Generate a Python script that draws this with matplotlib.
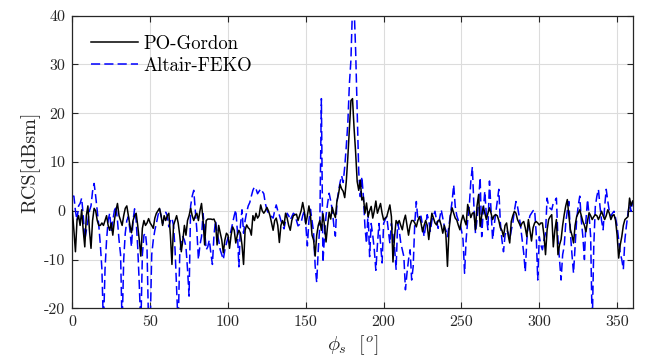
import numpy as np
import matplotlib
matplotlib.use("Agg")
import matplotlib.pyplot as plt

plt.rcParams['font.family'] = 'serif'
plt.rcParams['font.serif'] = ['cmr10', 'DejaVu Serif']
plt.rcParams['mathtext.fontset'] = 'cm'
plt.rcParams['axes.unicode_minus'] = False
plt.rcParams['axes.formatter.use_mathtext'] = False

phi = np.arange(0, 361, 1)

po_gordon = [
    0, -4, -8.4, -2, -1, -3, 0.2, -4, -7.4, -1,
    1, -4, -7.7, -2, 0.5, 0, -2, -3, -3, -2.5,
    -3, -2, -1, -3, -4, -2.5, -5, -2, 0, 1.5,
    -1, -2, -3, -1, 0.5, 1, -1, -3, -4.5, -2,
    -1, -0.5, -3, -6, -9.3, -3.6, -2, -3, -2.5, -1.6,
    -2.5, -3, -3.6, -1.5, -0.5, 0, 0.5, -1, -3, -1,
    -2, -1, -0.5, -5, -11, -3, -2, -1, -2.5, -5,
    -8.4, -6, -3, -5, -2, -1, 0.5, -1, -2, -1,
    -0.5, -2, 0, 1.5, -2, -7, -2, -1.7, -1.7, -1.7,
    -1.8, -1.7, -2.5, -7, -3, -4.5, -6, -8.6, -6, -4.6,
    -5, -7.7, -5, -3.3, -4, -6.6, -5, -4, -4.6, -7,
    -11, -4, -2.9, -3.5, -3.8, -5, -1, -2, -0.5, -1.5,
    -1, 1.2, 0, -0.5, 0, 0.7, 0, -1, -2.5, -4,
    -2, -1.5, -3, -6.5, -3, -2, -3, -0.5, -1.5, -3,
    -4, -2, -1, -0.8, -0.7, -2, -1, 0, 1.7, 0,
    -2.7, -1, 1, -1, -5, -6, -9.3, -5, -3, -2,
    -4, -0.6, -3, -6.4, -3, -0.3, -1.7, 0.7, -0.5, -1.4,
    2, 3.4, 5.4, 4.5, 4, 2.7, 6, 11, 17, 22.6,
    23, 17, 12, 6, 4.2, 6.3, 2.2, 2.8, -0.5, 1.6,
    -1.2, 0, 0.9, -1.5, 0, 2, -0.5, 0.5, 1.5, -0.5,
    -1.9, -1.5, -1.2, 0, 1.2, -1.2, -10.5, -5.3, -2, -2.6,
    -2, -3, -3.9, -2, -0.9, -3, -5, -3, -2, -2,
    -2.5, -3.3, -2, -1.2, -2.5, -4.3, -3, -2, -3, -5.9,
    -3, -0.5, -1.5, -2.5, -2.9, -2, -1.9, -3, -4.6, -3,
    -5, -11.4, -3.9, -1, 0.6, -0.5, -1.5, -1.9, -3, -3.9,
    -2, -0.9, -2, -2.9, 1.3, 0, -1.4, -0.5, -0.4, -3.9,
    1, 3.3, -3.2, -1, 0.9, -0.5, -1.8, -0.5, 0.6, -0.5,
    -1.8, -1, -0.8, -1, -2, -3.5, -4, -5.3, -3, -2.5,
    -5, -6.6, -2.2, -1, -0.1, -0.5, -1.8, -2.5, -3.2, -2.5,
    -2.2, -3.5, -5.3, -1.8, -4, -6.2, -3.5, -2.5, -2.2, -2.5,
    -2.9, -2.5, -2.5, -5, -9, -4, -1.8, -1.2, -0.8, -7.4,
    -4, -1.8, -9, -7, -5.9, -3, -0.8, 1, 2.3, -1,
    -3.9, -5, -6.6, -3, -1.2, -0.5, 0.2, -1, -2.2, -3,
    -4.3, -2, -0.4, -1, -1.8, -1.2, -0.8, -1, -1.8, -1,
    -0.1, -1, -1.8, -1, 0.2, -0.5, -1.8, -1, -0.8, -2,
    -5, -9.7, -7, -5.3, -3, -1.8, -1.5, -1.2, 2.6, 1,
    2,
]

altair_feko = [
    3, 3, 0, -2, 1, 1.5, 2.6, -1, -6, -4,
    -2, 0, 1, 4, 5.6, 3, 0, -3, -7, -12,
    -24, -12, -6, -2, -0.5, -4, -2, 0, 1, -2,
    -6, -9, -24, -10, -4.6, -2, -1.2, -4, -7.4, -2,
    0.4, -2, -7.4, -15, -24, -9, -5, -4.6, -8, -24,
    -24, -9, -6, -4, -2.6, -1, 0.4, -1, -2.6, -1.5,
    -0.3, -1, -3.3, -2, -1.5, -3, -8, -16, -24, -9,
    -6, -5.3, -6, -7.4, -12, -17.5, 1, 3, 4.2, 0,
    -4, -10, -7, -5.3, -0.6, -4, -8, -7.4, -6, -8.7,
    -11, -5, -2, -4.6, -6, -8, -9, -10, -8, -6.7,
    -5.5, -5.3, -4, -2.5, -1, 0.2, -4, -11.5, -3, 0.2,
    -4.6, -2, -0.3, 1, 1.7, 3, 4.2, 4.9, 4.5, 3.5,
    4, 4.5, 4, 3.5, 1.5, 0.2, -0.5, -0.9, -1.2, -1.5,
    0, 1.2, 0, -0.9, -2, -2.9, -3.7, -2, -0.5, -1,
    -1.9, -1.2, -0.5, -0.8, -2, -3.1, -2.8, -2.4, -1, 0,
    -3, -7.2, -2, 0.3, -2, -4.4, -11.3, -14.7, -8, -3,
    23, -10.6, -5.2, -1, 1.5, 3.6, 2, 0.2, -3, -5.2,
    1.7, 4, 5.8, 7.2, 5.8, 9, 13.2, 18, 26, 31,
    42, 42, 33, 20.6, 8, 2.9, 7, 2.9, -3.3, -6.7,
    -0.2, -9.4, -2.6, -5, -8, -12.2, -7, -2.6, -6.7, -10.7,
    -2.6, -1.8, -1.2, -4, -6.7, -2.6, -5, -7.4, -12, -2.5,
    -4, -6.6, -8, -9.4, -16.2, -12.8, -10, -8, -14.2, -11.4,
    -2.5, 1.9, -1.8, -1.5, -1.1, -3, -5.3, -3, -0.8, -2,
    -4.2, -2, -1, -0.1, -2, -3.6, -1.5, 0.2, -1.5, -3.2,
    -4, -5.3, -3, -0.5, 2, 5.3, 0.9, -1, -2, -2.5,
    -4, -5.9, -12.8, -5.9, -2, 0.9, 6, 9, 0.9, -4.6,
    -1.8, 2, 6.8, -5.3, 0, 4, -1, -3.9, 6.1, 0,
    -5.9, -3, -0.5, 2, 4.4, -2.5, -6, -8.4, -5, -3.9,
    -4.5, -5.9, -4, -2.5, 0, 1.9, 0.9, -1, -3.2, -6,
    -8.7, -12.5, -6, -2.5, -1, -0.5, 0, 0.2, -4.6, -14.2,
    -5.3, -7, -8, -6, -4.6, 2.6, 0.9, 0.5, 0.2, 1.6,
    2, 2.6, -5.9, -10, -14.2, -9, -7.3, -2.5, 0, 1.9,
    -4.6, -9, -12.8, -7.3, -1.8, 1, 3, -2, -5.3, -10,
    -1.8, 2.3, -1, -5.3, -24, -7.3, 0.9, 3, 4.4, 0.9,
    -2, -3.9, 0.9, 4.4, 2, -0.1, -1.1, -0.5, -0.1, -1.5,
    -3.2, -6, -8.7, -10, -12, -5.9, -3, -0.5, 1.6, -0.1,
    2,
]

series_labels = ['PO-Gordon', 'Altair-FEKO']
x_ticks = [0, 50, 100, 150, 200, 250, 300, 350]
y_ticks = [-20, -10, 0, 10, 20, 30, 40]

fig = plt.figure(figsize=(6.54, 3.62), dpi=100)
ax = fig.add_axes([0.1106, 0.1483, 0.8568, 0.8083])

ax.plot(phi, po_gordon, color='black', lw=1.1, label=series_labels[0], zorder=3)
ax.plot(phi, altair_feko, color='blue', lw=1.1, linestyle=(0, (6, 2.7)),
        label=series_labels[1], zorder=2)

ax.set_xlim(0, 360)
ax.set_ylim(-20, 40)
ax.set_xticks(x_ticks)
ax.set_yticks(y_ticks)
ax.grid(True, color='#dcdcdc', lw=0.8)
ax.set_axisbelow(True)

edge = '#262626'
for s in ax.spines.values():
    s.set_color(edge)
    s.set_linewidth(0.9)
ax.tick_params(direction='in', top=True, right=True, length=4, width=0.8,
               colors=edge, labelsize=11.5, pad=5)

ax.set_xlabel(r'$\phi_s\ \ [^o]$', fontsize=14.5, color=edge, labelpad=3)
ax.set_ylabel('RCS[dBsm]', fontsize=14.5, color=edge, labelpad=3)

leg = ax.legend(loc='upper left', frameon=False, fontsize=13.5,
                handlelength=2.5, handletextpad=0.3, labelspacing=0.2,
                borderaxespad=0.0, bbox_to_anchor=(0.02, 0.96))

fig.savefig('out.png', dpi=100)
